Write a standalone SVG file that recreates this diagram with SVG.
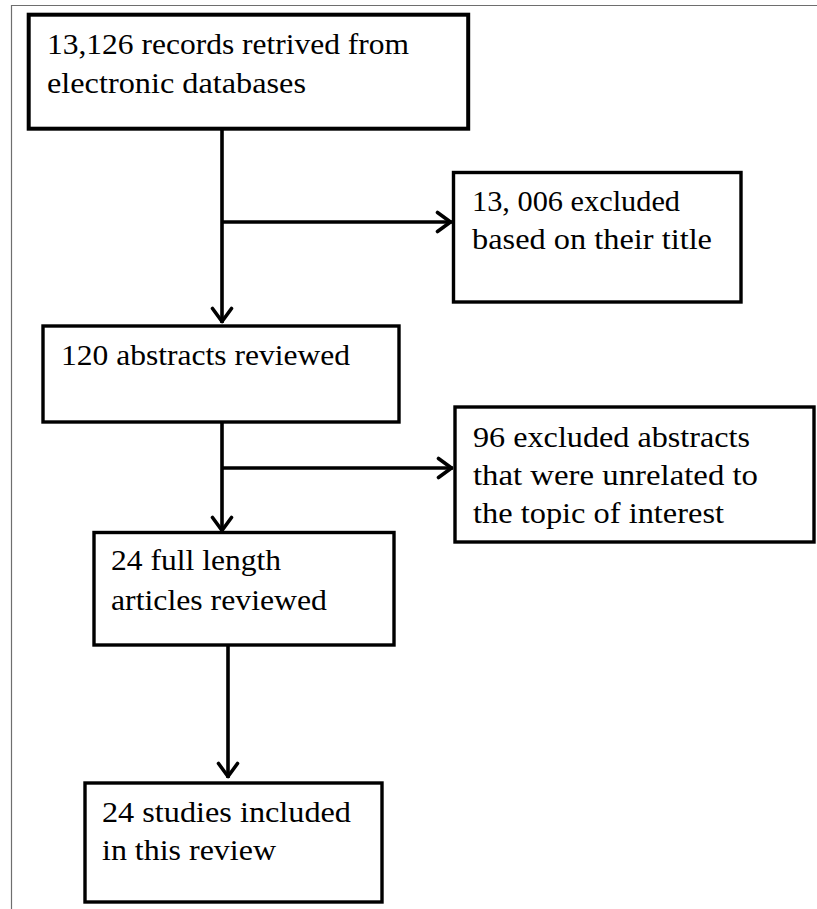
<svg xmlns="http://www.w3.org/2000/svg" width="817" height="909" viewBox="0 0 817 909">
<style>
.box{fill:#fff;stroke:#000;stroke-width:3.4;stroke-linejoin:miter}
.thick{stroke-width:4}
.t{font-size:29px;fill:#000}
.con{fill:none;stroke:#000;stroke-width:3.6}
.frame{fill:none;stroke:#6e6e6e;stroke-width:1.2}
</style>
<defs>
<marker id="arr" markerUnits="userSpaceOnUse" viewBox="-18 -12 20 24" refX="0" refY="0" markerWidth="20" markerHeight="24" orient="auto">
<path d="M-14.5,-9.5 L-1.5,0 L-14.5,9.5" fill="none" stroke="#000" stroke-width="3.6" stroke-linejoin="round" stroke-linecap="round"/>
</marker>
</defs>
<rect width="817" height="909" fill="#fff"/>
<path class="frame" d="M11.5,909 V5.5 H817"/>
<g id="connectors">
<line class="con" x1="222" y1="130" x2="222" y2="323" marker-end="url(#arr)"/>
<line class="con" x1="222" y1="222" x2="452" y2="222" marker-end="url(#arr)"/>
<line class="con" x1="222" y1="423" x2="222" y2="532" marker-end="url(#arr)"/>
<line class="con" x1="222" y1="468" x2="453" y2="468" marker-end="url(#arr)"/>
<line class="con" x1="228" y1="646" x2="228" y2="778" marker-end="url(#arr)"/>
</g>
<g font-family="Liberation Serif, Times New Roman, serif">
<g id="n1">
<rect class="box thick" x="28.7" y="14.7" width="439.5" height="114"/>
<text class="t" x="47" y="54" textLength="362" lengthAdjust="spacingAndGlyphs">13,126 records retrived from</text>
<text class="t" x="47" y="93" textLength="259" lengthAdjust="spacingAndGlyphs">electronic databases</text>
</g>
<g id="n2">
<rect class="box" x="453.5" y="172.5" width="287.5" height="129.5"/>
<text class="t" x="472" y="211" textLength="208" lengthAdjust="spacingAndGlyphs">13, 006 excluded</text>
<text class="t" x="472" y="249" textLength="240" lengthAdjust="spacingAndGlyphs">based on their title</text>
</g>
<g id="n3">
<rect class="box" x="43" y="326" width="356" height="96"/>
<text class="t" x="61" y="365" textLength="289" lengthAdjust="spacingAndGlyphs">120 abstracts reviewed</text>
</g>
<g id="n4">
<rect class="box" x="455" y="407" width="359" height="135"/>
<text class="t" x="473" y="447" textLength="277" lengthAdjust="spacingAndGlyphs">96 excluded abstracts</text>
<text class="t" x="473" y="485" textLength="285" lengthAdjust="spacingAndGlyphs">that were unrelated to</text>
<text class="t" x="473" y="523" textLength="251" lengthAdjust="spacingAndGlyphs">the topic of interest</text>
</g>
<g id="n5">
<rect class="box" x="94" y="532.5" width="300" height="112.5"/>
<text class="t" x="111" y="570" textLength="170" lengthAdjust="spacingAndGlyphs">24 full length</text>
<text class="t" x="111" y="610" textLength="216" lengthAdjust="spacingAndGlyphs">articles reviewed</text>
</g>
<g id="n6">
<rect class="box" x="85" y="783" width="297" height="119"/>
<text class="t" x="102" y="822" textLength="249" lengthAdjust="spacingAndGlyphs">24 studies included</text>
<text class="t" x="102" y="860" textLength="174" lengthAdjust="spacingAndGlyphs">in this review</text>
</g>
</g>
</svg>
